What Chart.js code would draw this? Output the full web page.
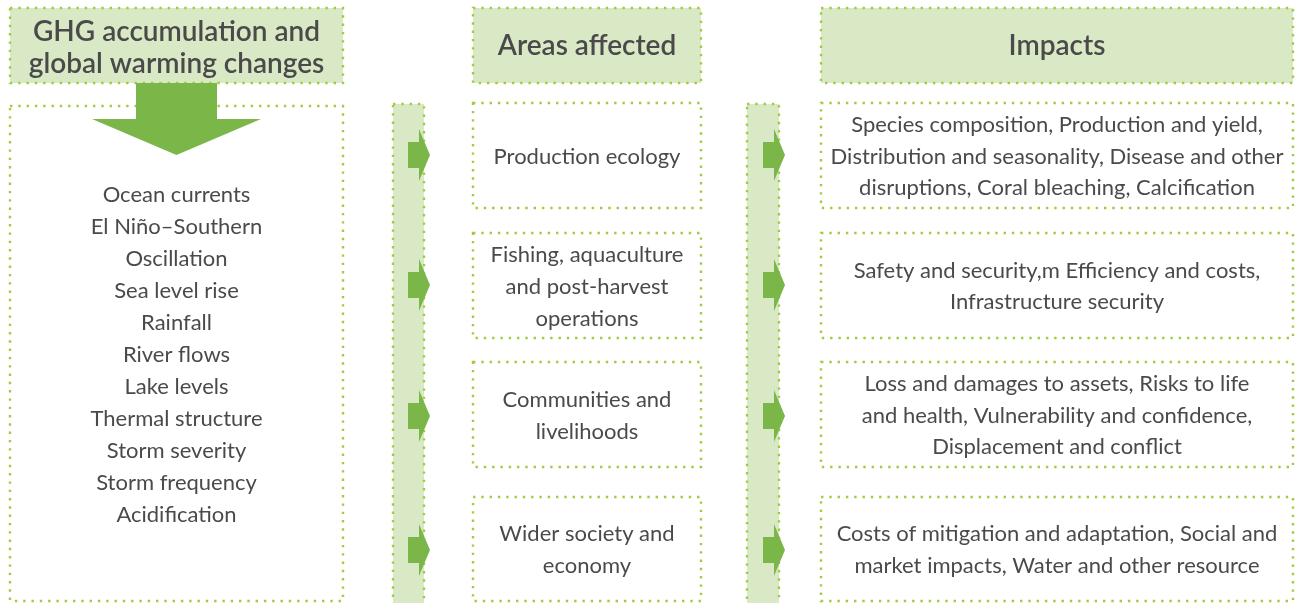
<!DOCTYPE html>
<html><head><meta charset="utf-8">
<script src="https://cdn.jsdelivr.net/npm/chart.js@4"></script>
<style>html,body{margin:0;padding:0;background:#fff}#wrap{width:1301px;height:603px}</style>
</head><body><div id="wrap"><canvas id="c" width="1301" height="603"></canvas></div>
<script>
// ---- content ----
const headers = [
  ["GHG accumulation and", "global warming changes"],
  ["Areas affected"],
  ["Impacts"]
];
const drivers = ["Ocean currents", "El Niño–Southern", "Oscillation", "Sea level rise", "Rainfall",
  "River flows", "Lake levels", "Thermal structure", "Storm severity", "Storm frequency", "Acidification"];
const areas = [
  ["Production ecology"],
  ["Fishing, aquaculture", "and post-harvest", "operations"],
  ["Communities and", "livelihoods"],
  ["Wider society and", "economy"]
];
const impacts = [
  ["Species composition, Production and yield,", "Distribution and seasonality, Disease and other", "disruptions, Coral bleaching, Calcification"],
  ["Safety and security,m Efficiency and costs,", "Infrastructure security"],
  ["Loss and damages to assets, Risks to life", "and health, Vulnerability and confidence,", "Displacement and conflict"],
  ["Costs of mitigation and adaptation, Social and", "market impacts, Water and other resource"]
];

// ---- layout (scale units = px of 1301x603 frame) ----
const layout = {
  header: [{x0:10,x1:343,y0:8,y1:83}, {x0:473,x1:701,y0:8,y1:83}, {x0:821,x1:1293,y0:8,y1:83}],
  headerShift: [2, 0, 0],
  driverBox: {x0:10,x1:343,y0:106,y1:601},
  driverTextY: 195, lineH: 32,
  bars: [{x0:393,x1:424,y0:104,y1:610, shaft0:408, head0:419, tip:430},
         {x0:747,x1:779,y0:104,y1:610, shaft0:763, head0:774, tip:785}],
  arrowY: [155, 285, 416, 550],
  rowBoxes: [{y0:103,y1:208},{y0:233,y1:338},{y0:362,y1:467},{y0:497,y1:601}],
  areaCol: {x0:473,x1:701},
  impactCol: {x0:821,x1:1293},
  bigArrow: {sx0:136,sx1:217,sy0:83,sy1:119,hx0:92,hx1:261,tipY:155}
};
const COL = {fill:'#d9e8c5', dot:'#9fcd3f', arrow:'#7ab648', text:'#4a4a4a'};
const FONT = 'Lato, "Open Sans", sans-serif';

const diagram = {
  id: 'diagram',
  afterDatasetsDraw(chart) {
    const {ctx, scales:{x, y}} = chart;
    const X = v => x.getPixelForValue(v), Y = v => y.getPixelForValue(v);
    function box(b, fill) {
      const l = X(b.x0), r = X(b.x1), t = Y(b.y0), bt = Y(b.y1);
      if (fill) { ctx.fillStyle = COL.fill; ctx.fillRect(l, t, r-l, bt-t); }
      ctx.save();
      ctx.strokeStyle = COL.dot; ctx.lineWidth = 2.4; ctx.setLineDash([2.4, 5.9]);
      ctx.strokeRect(l, t, r-l, bt-t);
      ctx.restore();
    }
    function lines(arr, cx, cy, lh, font) {
      ctx.fillStyle = COL.text; ctx.font = font; ctx.textAlign = 'center'; ctx.textBaseline = 'middle';
      const n = arr.length;
      arr.forEach((s, i) => ctx.fillText(s, X(cx), Y(cy + (i - (n-1)/2) * lh)));
    }
    // headers
    layout.header.forEach((h, i) => {
      box(h, true);
      lines(headers[i], (h.x0+h.x1)/2, (h.y0+h.y1)/2 + layout.headerShift[i], 32, '600 28px ' + FONT);
    });
    // driver box
    box(layout.driverBox, false);
    drivers.forEach((s, i) => {
      ctx.fillStyle = COL.text; ctx.font = '22px ' + FONT; ctx.textAlign = 'center'; ctx.textBaseline = 'middle';
      ctx.fillText(s, X((layout.driverBox.x0+layout.driverBox.x1)/2), Y(layout.driverTextY + i*layout.lineH));
    });
    // big arrow
    const a = layout.bigArrow;
    ctx.fillStyle = COL.arrow;
    ctx.beginPath();
    ctx.moveTo(X(a.sx0), Y(a.sy0)); ctx.lineTo(X(a.sx1), Y(a.sy0)); ctx.lineTo(X(a.sx1), Y(a.sy1));
    ctx.lineTo(X(a.hx1), Y(a.sy1)); ctx.lineTo(X((a.hx0+a.hx1)/2), Y(a.tipY)); ctx.lineTo(X(a.hx0), Y(a.sy1));
    ctx.lineTo(X(a.sx0), Y(a.sy1)); ctx.closePath(); ctx.fill();
    // bars + arrows
    layout.bars.forEach(b => {
      box(b, true);
      layout.arrowY.forEach(c => {
        ctx.fillStyle = COL.arrow;
        ctx.beginPath();
        ctx.moveTo(X(b.shaft0), Y(c-13)); ctx.lineTo(X(b.head0), Y(c-13)); ctx.lineTo(X(b.head0), Y(c-26));
        ctx.lineTo(X(b.tip), Y(c)); ctx.lineTo(X(b.head0), Y(c+26)); ctx.lineTo(X(b.head0), Y(c+13));
        ctx.lineTo(X(b.shaft0), Y(c+13)); ctx.closePath(); ctx.fill();
      });
    });
    // rows
    layout.rowBoxes.forEach((rb, i) => {
      const ab = {x0:layout.areaCol.x0, x1:layout.areaCol.x1, y0:rb.y0, y1:rb.y1};
      const ib = {x0:layout.impactCol.x0, x1:layout.impactCol.x1, y0:rb.y0, y1:rb.y1};
      box(ab, false); box(ib, false);
      const cy = (rb.y0+rb.y1)/2 + 1;
      lines(areas[i], (ab.x0+ab.x1)/2, cy, 32, '22px ' + FONT);
      lines(impacts[i], (ib.x0+ib.x1)/2, cy, 31.5, '22px ' + FONT);
    });
  }
};

new Chart(document.getElementById('c'), {
  type: 'scatter',
  data: { datasets: [{ data: [], pointRadius: 0 }] },
  options: {
    responsive: false, animation: false,
    layout: { padding: 0 },
    plugins: { legend: {display:false}, tooltip: {enabled:false} },
    scales: {
      x: { type:'linear', min:0, max:1301, display:false },
      y: { type:'linear', min:0, max:603, reverse:true, display:false }
    }
  },
  plugins: [diagram]
});
</script></body></html>
